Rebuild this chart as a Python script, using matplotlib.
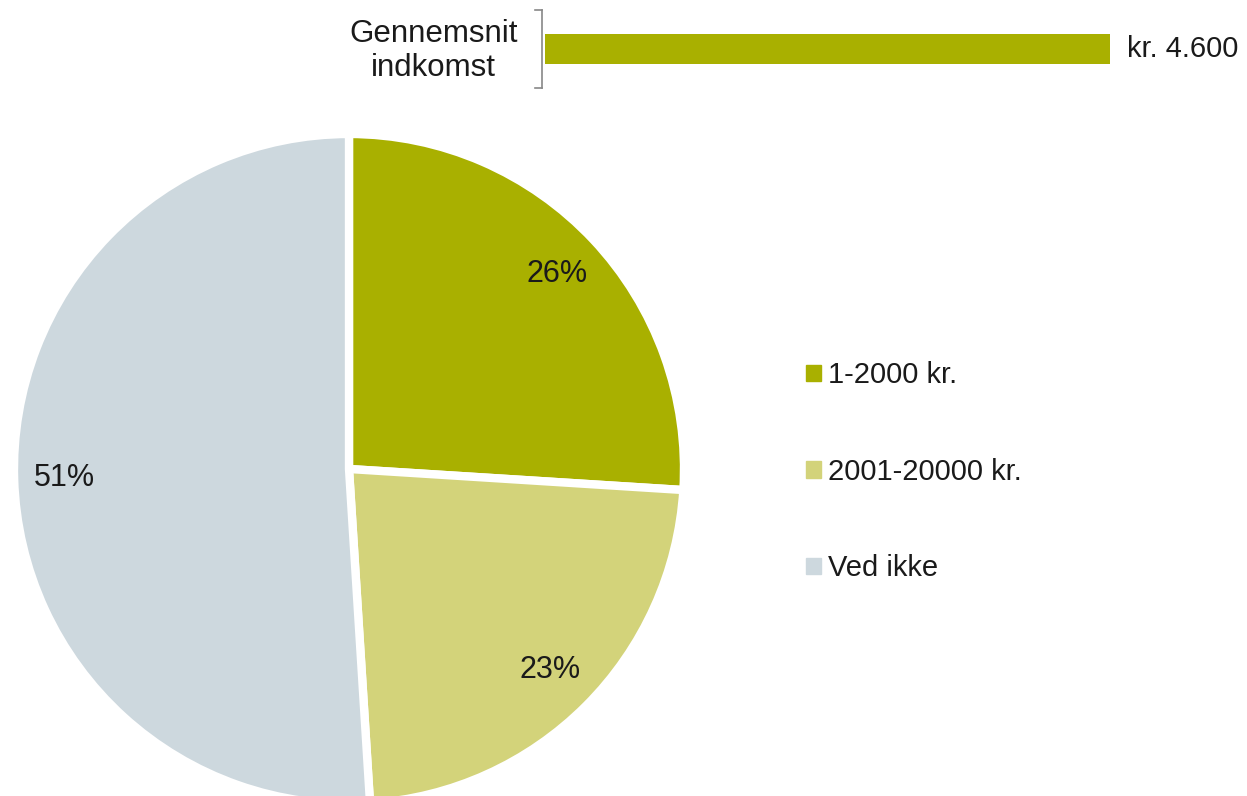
import matplotlib.pyplot as plt
from matplotlib.patches import Patch

plt.rcParams['font.family'] = ['Liberation Sans', 'DejaVu Sans']

categories = ["1-2000 kr.", "2001-20000 kr.", "Ved ikke"]
shares = [26, 23, 51]
colors = ['#a9b000', '#d3d37a', '#cdd8de']

avg_label = "Gennemsnit\nindkomst"
avg_income = 4600
avg_text = "kr. 4.600"

W, H = 1247, 796
fig = plt.figure(figsize=(W / 100, H / 100), dpi=100)

# pie in a pixel-like coordinate axes
ax = fig.add_axes([0, 0, 1, 1])
wedges, texts, autotexts = ax.pie(
    shares, colors=colors, startangle=90, counterclock=False,
    center=(349, H - 469), radius=335, autopct='%d%%', pctdistance=0.85,
    wedgeprops=dict(edgecolor='white', linewidth=6),
    textprops=dict(fontsize=22, color='#1a1a1a'))
ax.set_xlim(0, W)
ax.set_ylim(0, H)
ax.set_aspect('equal')
ax.axis('off')

ax.legend(handles=[Patch(color=c, label=l) for c, l in zip(colors, categories)],
          loc='upper left', bbox_to_anchor=(780 / W, 1 - 335 / H),
          frameon=False, fontsize=21, labelspacing=2.35,
          handlelength=0.5, handleheight=0.5, handletextpad=0.25,
          labelcolor='#1a1a1a')

# average income bar
bx = fig.add_axes([545 / W, 1 - 64 / H, 614 / W, 30 / H])
bx.barh([0], [avg_income], height=1.0, color=colors[0])
bx.set_xlim(0, 5000)
bx.set_ylim(-0.5, 0.5)
bx.axis('off')
bx.text(avg_income + 140, 0, avg_text, va='center', ha='left', fontsize=21, color='#1a1a1a')

# bracket and label
fig.add_artist(plt.Line2D([542 / W, 542 / W], [1 - 10 / H, 1 - 88 / H], color='#888888', lw=1.2))
fig.add_artist(plt.Line2D([535 / W, 542 / W], [1 - 10 / H, 1 - 10 / H], color='#888888', lw=1.2))
fig.add_artist(plt.Line2D([535 / W, 542 / W], [1 - 88 / H, 1 - 88 / H], color='#888888', lw=1.2))
fig.text(518 / W, 1 - 51 / H, avg_label, ha='right', va='center', fontsize=22.5,
         color='#1a1a1a', multialignment='center', linespacing=1.2)

fig.savefig('out.png', dpi=100)
